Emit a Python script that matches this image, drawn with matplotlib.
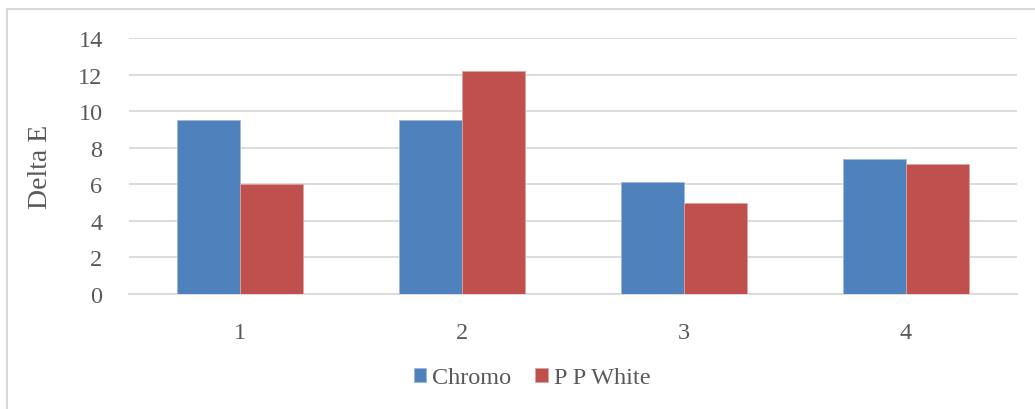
import numpy as np
import matplotlib.pyplot as plt
from matplotlib.patches import Rectangle

categories = ['1', '2', '3', '4']
chromo = [9.5, 9.5, 6.1, 7.4]
pp_white = [6.0, 12.2, 5.0, 7.1]
series_names = ['Chromo', 'P P White']

plt.rcParams['font.family'] = ['Liberation Serif', 'DejaVu Serif']
text_color = '#595959'
grid_color = '#D9D9D9'

fig = plt.figure(figsize=(10.35, 4.10), dpi=100)
W, H = 1035, 410
# plot area in pixels: x 129..1017, y 39..295
ax = fig.add_axes([129 / W, 1 - 295 / H, 888 / W, 256 / H])

x = np.arange(len(categories))
w = 0.285
ax.bar(x - w / 2, chromo, w, color='#4F81BD', edgecolor='#9DB9DB', linewidth=0.6, label=series_names[0], zorder=3)
ax.bar(x + w / 2, pp_white, w, color='#C0504D', edgecolor='#DDA3A1', linewidth=0.6, label=series_names[1], zorder=3)

ax.set_xlim(-0.5, len(categories) - 0.5)
ax.set_ylim(0, 14)
ax.set_yticks(range(0, 15, 2))
ax.set_xticks(x)
ax.set_xticklabels(categories)
ax.yaxis.grid(True, color=grid_color, linewidth=1.3, zorder=0)
ax.tick_params(axis='both', length=0, labelsize=17.5, colors=text_color)
ax.tick_params(axis='y', pad=19)
ax.tick_params(axis='x', pad=20)
for s in ['top', 'right', 'left']:
    ax.spines[s].set_visible(False)
ax.spines['bottom'].set_color(grid_color)
ax.spines['bottom'].set_linewidth(1.3)

ax.set_ylabel('Delta E', fontsize=20, color=text_color)
ax.yaxis.set_label_coords((53 - 129) / 888, 0.5)

leg = fig.legend(loc='center', bbox_to_anchor=(532 / W, 1 - 379 / H), ncol=2, frameon=False,
                 fontsize=17.5, handlelength=0.5, handleheight=0.5, handletextpad=0.25,
                 columnspacing=1.0, labelcolor=text_color)

# outer chart frame
fig.patches.append(Rectangle((7 / W, -0.1), 1.2, 1 - 10 / H + 0.1, transform=fig.transFigure,
                             fill=False, edgecolor='#D9D9D9', linewidth=1.5))

fig.savefig('out.png', dpi=100)
